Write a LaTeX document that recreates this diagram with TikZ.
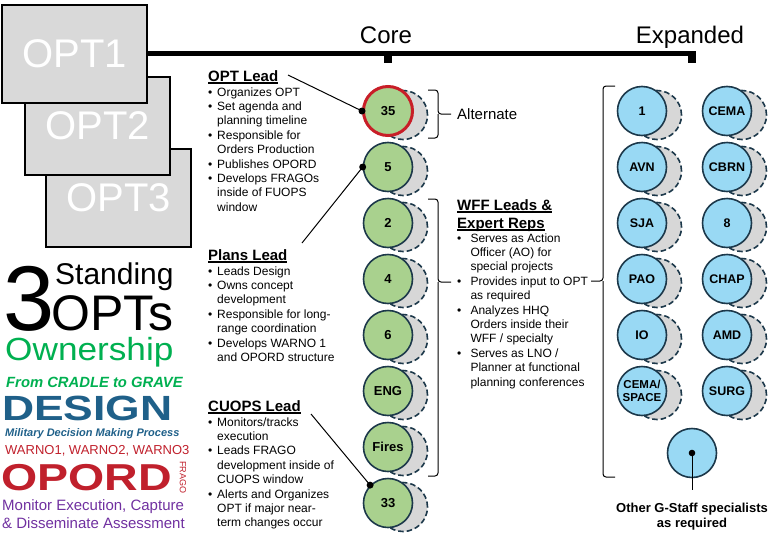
\documentclass[tikz,border=0pt]{standalone}
\usepackage{fontspec}
\setmainfont{Liberation Sans}
\usepackage{graphicx}
\newcommand\fs[2]{\fontsize{#1}{#2}\selectfont}
\newlength\ulw
\newcommand\ulx[1]{\settowidth\ulw{#1}\rlap{\rule[-2.6pt]{\ulw}{1.3pt}}#1}
\newcommand\bitem[1][9pt]{\makebox[#1][l]{•}}
\newcommand\bcont[1][9pt]{\hspace*{#1}}
\definecolor{navy}{RGB}{28,56,74}
\definecolor{cgreen}{RGB}{169,209,142}
\definecolor{cblue}{RGB}{153,217,244}
\definecolor{shadowgray}{RGB}{215,215,215}
\definecolor{boxgray}{RGB}{217,217,217}
\definecolor{ogreen}{RGB}{0,176,80}
\definecolor{dblue}{RGB}{31,96,137}
\definecolor{dred}{RGB}{192,32,44}
\definecolor{dpurple}{RGB}{112,48,160}
\definecolor{altred}{RGB}{200,30,40}
\begin{document}
\begin{tikzpicture}[x=1pt,y=-1pt,
  optbox/.style={draw=black, line width=1.5pt, fill=boxgray, minimum width=145pt, minimum height=98pt, inner sep=0, text=white, font=\fs{40}{40}},
  shad/.style={circle, draw=navy, dash pattern=on 5.5pt off 3pt, line width=1.6pt, fill=shadowgray, minimum size=49pt, inner sep=0},
  corec/.style={circle, draw=navy, line width=1.6pt, fill=cgreen, minimum size=49pt, inner sep=0, font=\bfseries\fs{13}{13}},
  expc/.style={circle, draw=navy, line width=1.6pt, fill=cblue, minimum size=49pt, inner sep=0, font=\bfseries\fs{12.5}{12.5}},
  head/.style={anchor=base west, inner sep=0, font=\bfseries\fs{15}{18}},
  blist/.style={anchor=base west, inner sep=0, font=\fs{12}{14.4}},
  brace/.style={draw=black, line width=1pt, rounded corners=3pt},
  conn/.style={draw=black, line width=1pt},
  lbl/.style={anchor=base west, inner sep=0},
]
\useasboundingbox (0,0) rectangle (769,544);

% OPT boxes
\node[optbox] (opt3) at (118.5,198) {\raisebox{-3pt}{OPT3}};
\node[optbox] (opt2) at (97.5,126) {OPT2};
\node[optbox] (opt1) at (74.5,54) {OPT1};

% top line and ticks
\fill[black] (147,50.5) rectangle (696,55.7);
\fill[black] (384,55) rectangle (392,63);
\fill[black] (688,55) rectangle (696,63);
\node[anchor=base, inner sep=0, font=\fs{24}{24}] (core) at (386,43) {Core};
\node[anchor=base, inner sep=0, font=\fs{24}{24}] (expanded) at (690,43) {Expanded};

% core circles
\node[shad] (s35) at (403,115) {};
\node[corec, draw=altred, line width=3pt] (c35) at (388,111) {35};
\foreach \ya/\la/\na in {167/5/c5, 223/2/c2, 279/4/c4, 335/6/c6, 391/ENG/cENG, 447/Fires/cFires, 503/33/c33} {
  \node[shad] (s\na) at (403,\ya+4) {};
  \node[corec] (\na) at (388,\ya) {\la};
}

% expanded circles
\foreach \ya/\la/\lb/\na/\nb in {111/1/CEMA/e1/eCEMA, 167/AVN/CBRN/eAVN/eCBRN, 223/SJA/8/eSJA/e8, 279/PAO/CHAP/ePAO/eCHAP, 335/IO/AMD/eIO/eAMD} {
  \node[shad] (s\na) at (657,\ya+4) {};
  \node[expc] (\na) at (642,\ya) {\la};
  \node[shad] (s\nb) at (742,\ya+4) {};
  \node[expc] (\nb) at (727,\ya) {\lb};
}
\node[shad] (seCS) at (657,395) {};
\node[expc, align=center, font=\bfseries\fs{11.5}{13}] (eCS) at (642,391) {CEMA/\\SPACE};
\node[shad] (seSURG) at (742,395) {};
\node[expc] (eSURG) at (727,391) {SURG};

% other staff
\node[expc] (other) at (692,453) {};
\coordinate (otherend) at (692,490);
\draw[conn] (other.center) -- (otherend);
\fill[black] (other.center) circle (3.3);
\node[anchor=base, inner sep=0, font=\bfseries\fs{13}{15.6}] (otherlbl) at (692,512)
  {\begin{tabular}[t]{@{}c@{}}Other G-Staff specialists\\as required\end{tabular}};

% braces
\draw[brace] (428,90) -- (438,90) -- (438,114) -- (451,114);
\draw[brace] (438,114) -- (438,138) -- (428,138);
\draw[brace] (428,199) -- (438,199) -- (438,282) -- (451,282);
\draw[brace] (438,282) -- (438,476) -- (428,476);
\draw[brace] (615,86) -- (603,86) -- (603,281) -- (591,281);
\draw[brace] (603,281) -- (603,477) -- (615,477);
\node[lbl, font=\fs{15}{15}] (alt) at (457,119) {Alternate};

% WFF text
\node[head] (wffhead) at (457,210) {\begin{tabular}[t]{@{}l@{}}\ulx{WFF Leads \&}\\\ulx{Expert Reps}\end{tabular}};
\node[blist] (wfflist) at (457,242) {\begin{tabular}[t]{@{}l@{}}
\bitem[10pt] Serves as Action\\
\bcont[10pt] Officer (AO) for\\
\bcont[10pt] special projects\\
\bitem[10pt] Provides input to OPT\\
\bcont[10pt] as required\\
\bitem[10pt] Analyzes HHQ\\
\bcont[10pt] Orders inside their\\
\bcont[10pt] WFF / specialty\\
\bitem[10pt] Serves as LNO /\\
\bcont[10pt] Planner at functional\\
\bcont[10pt] planning conferences
\end{tabular}};

% lead texts
\node[head] (optlead) at (208,81) {\ulx{OPT Lead}};
\node[blist] (optlist) at (208,96) {\begin{tabular}[t]{@{}l@{}}
\bitem Organizes OPT\\
\bitem Set agenda and\\
\bcont planning timeline\\
\bitem Responsible for\\
\bcont Orders Production\\
\bitem Publishes OPORD\\
\bitem Develops FRAGOs\\
\bcont inside of FUOPS\\
\bcont window
\end{tabular}};
\node[head] (planslead) at (208,260) {\ulx{Plans Lead}};
\node[blist] (planslist) at (208,275) {\begin{tabular}[t]{@{}l@{}}
\bitem Leads Design\\
\bitem Owns concept\\
\bcont development\\
\bitem Responsible for long-\\
\bcont range coordination\\
\bitem Develops WARNO 1\\
\bcont and OPORD structure
\end{tabular}};
\node[head] (cuopslead) at (208,411) {\ulx{CUOPS Lead}};
\node[blist] (cuopslist) at (208,426) {\begin{tabular}[t]{@{}l@{}}
\bitem Monitors/tracks\\
\bcont execution\\
\bitem Leads FRAGO\\
\bcont development inside of\\
\bcont CUOPS window\\
\bitem Alerts and Organizes\\
\bcont OPT if major near-\\
\bcont term changes occur
\end{tabular}};

% connectors
\coordinate (optleadend) at (288,75);
\coordinate (plansend) at (302,243);
\coordinate (cuopsend) at (311,414);
\draw[conn] (optleadend) -- (c35.west);
\draw[conn] (plansend) -- (c5.west);
\draw[conn] (cuopsend) -- (c33.135);
\fill[black] (c35.west) circle (3.5);
\fill[black] (c5.west) circle (3.5);
\fill[black] (c33.135) circle (3.5);

% left panel
\node[lbl, font=\fs{92}{92}, text depth=0pt] (three) at (3,330) {3};
\node[lbl, font=\fs{30}{30}] (standing) at (55,284) {Standing};
\node[lbl, font=\fs{50}{50}, text depth=0pt] (opts) at (51,330) {OPTs};
\node[lbl, font=\fs{32}{32}, text=ogreen, text height=23pt] (own) at (5,360) {\scalebox{1.1}[1]{Ownership}};
\node[lbl, font=\bfseries\itshape\fs{14.8}{14.8}, text=ogreen] (cradle) at (6,387) {From CRADLE to GRAVE};
\node[lbl, font=\bfseries\fs{35}{35}, text=dblue] (design) at (2,420) {\scalebox{1.27}[1]{DESIGN}};
\node[lbl, font=\bfseries\itshape\fs{11}{11}, text=dblue] (mdmp) at (5,436) {Military Decision Making Process};
\node[lbl, font=\fs{13}{13}, text=dred] (warno) at (5,454) {WARNO1, WARNO2, WARNO3};
\node[lbl, font=\bfseries\fs{37.5}{37.5}, text=dred] (opord) at (1,490) {\scalebox{1.24}[1]{OPORD}};
\node[inner sep=0, font=\fs{9}{9}, text=dred, rotate=-90] (frago) at (183,477) {FRAGO};
\node[lbl, font=\fs{15}{15}, text=dpurple] (monitor) at (2,510) {Monitor Execution, Capture};
\node[lbl, font=\fs{15}{15}, text=dpurple] (dissem) at (2,528) {\& Disseminate Assessment};
\end{tikzpicture}
\end{document}
